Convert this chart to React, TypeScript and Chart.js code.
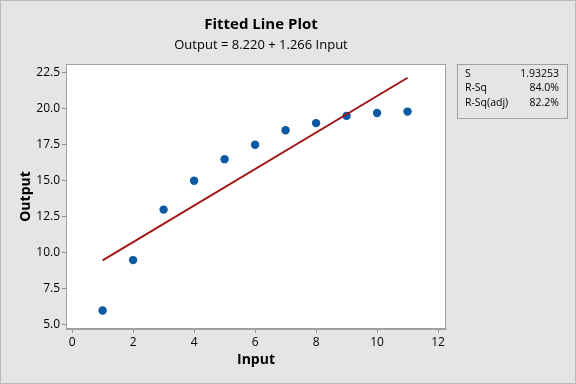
import React, { useEffect, useRef } from "react";
import { Chart, registerables } from "chart.js";

Chart.register(...registerables);

const inputValues = [1, 2, 3, 4, 5, 6, 7, 8, 9, 10, 11];
const outputValues = [6.0, 9.5, 13.0, 15.0, 16.5, 17.5, 18.5, 19.0, 19.5, 19.7, 19.8];
const intercept = 8.22;
const slope = 1.266;
const fitX = [1, 11];
const statLabels = ["S", "R-Sq", "R-Sq(adj)"];
const statValues = ["1.93253", "84.0%", "82.2%"];
const titleText = "Fitted Line Plot";
const subtitleText = "Output = 8.220 + 1.266 Input";

const FONT = "'Open Sans', 'Noto Sans', sans-serif";

const decorPlugin = {
  id: "decor",
  beforeDraw(chart: any) {
    const { ctx, width, height, chartArea } = chart;
    ctx.save();
    ctx.fillStyle = "#e3e6e3";
    ctx.fillRect(0, 0, width, height);
    ctx.strokeStyle = "#b9bdb9";
    ctx.lineWidth = 1;
    ctx.strokeRect(0.5, 0.5, width - 1, height - 1);
    ctx.fillStyle = "#ffffff";
    ctx.fillRect(chartArea.left, chartArea.top, chartArea.right - chartArea.left, chartArea.bottom - chartArea.top);
    ctx.restore();
  },
  afterDraw(chart: any) {
    const { ctx, chartArea } = chart;
    ctx.save();
    ctx.strokeStyle = "#a0a0a0";
    ctx.lineWidth = 1;
    ctx.strokeRect(chartArea.left + 0.5, chartArea.top + 0.5, chartArea.right - chartArea.left - 1, chartArea.bottom - chartArea.top - 1);
    // titles
    ctx.fillStyle = "#000000";
    ctx.textAlign = "center";
    ctx.textBaseline = "middle";
    ctx.font = `bold 15px ${FONT}`;
    ctx.fillText(titleText, 261, 25);
    ctx.font = `13px ${FONT}`;
    ctx.fillText(subtitleText, 261, 45);
    // stats box
    const bx = 457, by = 64, bw = 111, bh = 55;
    ctx.strokeStyle = "#a0a0a0";
    ctx.strokeRect(bx + 0.5, by + 0.5, bw - 1, bh - 1);
    ctx.font = `10.5px ${FONT}`;
    ctx.textBaseline = "middle";
    statLabels.forEach((lab, i) => {
      const y = by + 10 + i * 14.5;
      ctx.textAlign = "left";
      ctx.fillText(lab, bx + 8, y);
      ctx.textAlign = "right";
      ctx.fillText(statValues[i], bx + bw - 9, y);
    });
    ctx.restore();
  },
};

export default function App() {
  const ref = useRef<HTMLCanvasElement>(null);
  useEffect(() => {
    document.body.style.margin = "0";
    const fitData = fitX.map((x) => ({ x, y: intercept + slope * x }));
    const chart = new Chart(ref.current!, {
      type: "scatter",
      data: {
        datasets: [
          {
            type: "line",
            label: "Fit",
            data: fitData,
            borderColor: "#a31515",
            borderWidth: 2,
            pointRadius: 0,
            fill: false,
          } as any,
          {
            label: "Data",
            data: inputValues.map((x, i) => ({ x, y: outputValues[i] })),
            backgroundColor: "#0b58a3",
            borderColor: "#0b58a3",
            borderWidth: 0,
            pointRadius: 4.2,
          },
        ],
      },
      options: {
        animation: false,
        responsive: false,
        layout: { padding: { top: 64, right: 130, left: 0, bottom: 0 } },
        plugins: { legend: { display: false }, title: { display: false }, tooltip: { enabled: false } },
        scales: {
          x: {
            type: "linear",
            min: -0.2,
            max: 12.26,
            ticks: { stepSize: 2, includeBounds: false, color: "#000", font: { family: FONT, size: 12 }, padding: 2 },
            grid: { drawOnChartArea: false, drawTicks: true, tickLength: 4, color: "#909090" },
            border: { color: "#a0a0a0" },
            title: { display: true, text: "Input", color: "#000", font: { family: FONT, size: 14, weight: "bold" }, padding: { top: 0, bottom: 16 } },
            afterFit(scale: any) { scale.height = 55; },
          },
          y: {
            type: "linear",
            min: 4.72,
            max: 23.1,
            ticks: { stepSize: 2.5, includeBounds: false, color: "#000", font: { family: FONT, size: 12 }, padding: 2, callback: (v: any) => Number(v).toFixed(1) },
            grid: { drawOnChartArea: false, drawTicks: true, tickLength: 4, color: "#909090" },
            border: { color: "#a0a0a0" },
            title: { display: true, text: "Output", color: "#000", font: { family: FONT, size: 14, weight: "bold" }, padding: { top: 18, bottom: 0 } },
            afterFit(scale: any) { scale.width = 66; },
          },
        },
      } as any,
      plugins: [decorPlugin],
    });
    return () => chart.destroy();
  }, []);
  return (
    <div style={{ width: 576, height: 384 }}>
      <canvas ref={ref} width={576} height={384} />
    </div>
  );
}
